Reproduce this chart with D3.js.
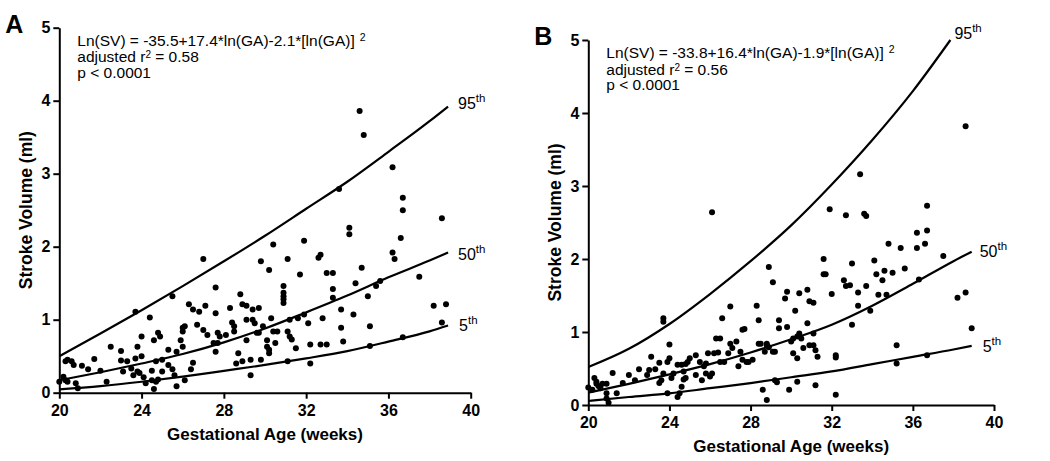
<!DOCTYPE html>
<html>
<head>
<meta charset="utf-8">
<script src="https://cdn.jsdelivr.net/npm/d3@7"></script>
<style>
  body { margin: 0; background: #fff; }
  svg { display: block; font-family: "Liberation Sans", Arial, sans-serif; }
  .axis path, .axis line { stroke: #000; stroke-width: 2px; }
  .axis text { font-size: 16px; font-weight: bold; fill: #000; }
</style>
</head>
<body>
<svg id="chart" width="1050" height="461"></svg>
<script>
// data: [gestational age (weeks), stroke volume (ml)]
var pointsA = [
  [20.0,0.15],[20.2,0.22],[20.3,0.43],[20.4,0.45],[20.3,0.17],[20.4,0.15],[20.6,0.43],[20.7,0.38],
  [20.8,0.13],[20.9,0.06],[21.1,0.37],[21.4,0.32],[21.7,0.46],[22.0,0.30],[22.3,0.15],[22.5,0.63],
  [23.0,0.57],[23.0,0.44],[23.1,0.29],[23.3,0.43],[23.5,0.33],[23.6,0.24],[23.7,0.47],[23.7,1.11],
  [23.8,0.63],[23.8,0.29],[23.9,0.27],[24.0,0.77],[24.0,0.50],[24.1,0.21],[24.2,0.13],[24.4,1.03],
  [24.5,0.17],[24.6,0.72],[24.5,0.30],[24.6,0.05],[24.7,0.43],[24.7,0.15],[24.8,0.82],[24.9,0.77],
  [24.8,0.18],[25.0,0.29],[25.0,0.45],[25.3,0.59],[25.3,0.38],[25.5,1.32],[25.5,0.32],[25.6,0.24],
  [25.7,0.56],[25.7,0.09],[25.9,0.72],[26.0,0.84],[26.0,0.89],[26.1,0.91],[26.1,0.17],[26.0,0.63],
  [26.3,1.21],[26.4,0.32],[26.5,0.41],[26.5,1.14],[26.7,0.93],[26.8,1.11],[27.0,1.83],[27.0,0.86],
  [27.1,1.19],[27.2,0.79],[27.5,0.68],[27.6,1.44],[27.6,1.09],[27.6,0.56],[27.7,0.82],[27.7,0.68],
  [27.8,0.77],[28.1,0.79],[28.3,1.16],[28.4,0.96],[28.5,0.84],[28.5,0.91],[28.6,0.40],[28.7,0.54],
  [28.8,1.35],[28.9,1.21],[28.9,0.43],[29.1,1.19],[29.1,1.00],[29.1,0.72],[29.3,0.24],[29.3,0.45],
  [29.4,1.00],[29.4,1.14],[29.5,0.95],[29.6,0.82],[29.7,1.16],[29.7,0.82],[29.8,0.45],[29.8,1.80],
  [29.9,0.91],[30.1,0.72],[30.1,0.63],[30.2,0.59],[30.2,0.54],[30.2,1.68],[30.3,1.02],[30.4,2.03],
  [30.4,0.84],[30.5,0.68],[30.6,0.84],[30.9,1.46],[30.9,1.37],[30.9,1.32],[30.9,1.28],[30.9,1.23],
  [31.1,1.83],[31.1,0.84],[31.1,0.43],[31.2,1.00],[31.2,0.77],[31.3,0.73],[31.5,0.61],[31.6,1.02],
  [31.7,1.62],[31.9,2.08],[31.9,1.07],[32.1,0.95],[32.2,0.66],[32.2,0.40],[32.6,1.85],[32.7,1.89],
  [32.7,0.66],[32.8,1.02],[33.0,1.64],[33.0,0.66],[33.3,1.64],[33.3,1.42],[33.3,1.30],[33.6,2.79],
  [33.7,1.14],[33.7,0.89],[33.8,0.70],[34.1,2.26],[34.1,2.17],[34.3,1.07],[34.4,1.50],[34.6,3.86],
  [34.7,1.71],[34.8,3.53],[35.0,1.32],[35.1,0.91],[35.1,0.64],[35.4,1.46],[35.6,1.53],[36.2,3.09],
  [36.2,1.92],[36.3,1.83],[36.6,2.12],[36.7,2.67],[36.7,2.50],[36.7,0.76],[37.5,1.59],[38.2,1.19],
  [38.6,2.39],[38.6,0.96],[38.8,1.21]
]
var pointsB = [
  [20.0,0.24],[20.2,0.21],[20.3,0.37],[20.4,0.32],[20.4,0.29],[20.5,0.26],[20.6,0.23],[20.7,0.29],
  [20.9,0.29],[20.9,0.16],[20.9,0.09],[21.0,0.03],[21.2,0.44],[21.4,0.16],[21.7,0.30],[22.0,0.41],
  [22.3,0.34],[22.5,0.49],[22.9,0.41],[23.0,0.48],[23.1,0.66],[23.3,0.49],[23.5,0.58],[23.5,0.30],
  [23.6,0.34],[23.7,1.19],[23.7,1.14],[23.7,0.43],[23.9,0.16],[23.9,0.59],[24.0,0.83],[24.0,0.64],
  [24.1,0.37],[24.2,0.43],[24.4,0.55],[24.4,0.11],[24.5,0.16],[24.6,0.25],[24.6,0.55],[24.7,0.46],
  [24.7,0.35],[24.8,0.56],[24.8,0.37],[24.9,0.59],[25.0,0.64],[25.3,0.68],[25.3,0.41],[25.5,0.59],
  [25.6,0.34],[25.7,0.53],[25.8,0.43],[25.8,0.57],[25.9,0.71],[26.0,0.39],[26.1,0.43],[26.1,2.64],
  [26.2,0.71],[26.3,0.91],[26.4,0.72],[26.5,0.59],[26.5,0.91],[26.6,1.19],[26.7,0.59],[26.9,0.71],
  [27.0,0.84],[27.0,1.35],[27.1,0.78],[27.3,0.87],[27.4,0.53],[27.5,0.73],[27.6,1.03],[27.6,0.62],
  [27.7,1.04],[27.8,0.59],[27.9,0.59],[28.1,0.62],[28.3,1.36],[28.4,0.84],[28.4,1.16],[28.5,0.84],
  [28.6,0.21],[28.7,0.73],[28.8,0.82],[28.8,0.84],[28.8,0.07],[28.9,1.89],[28.9,0.79],[29.1,1.68],
  [29.1,0.73],[29.2,0.73],[29.2,0.34],[29.3,0.31],[29.4,1.16],[29.4,1.05],[29.7,1.46],[29.8,1.07],
  [29.8,1.55],[29.9,0.21],[30.0,0.87],[30.1,0.91],[30.1,0.71],[30.2,1.29],[30.3,0.94],[30.3,0.64],
  [30.3,0.32],[30.4,0.98],[30.4,1.53],[30.5,0.91],[30.6,0.78],[30.8,1.58],[30.8,1.12],[30.9,1.42],
  [30.9,0.82],[31.1,0.98],[31.1,1.40],[31.1,0.82],[31.2,0.75],[31.2,0.27],[31.3,0.66],[31.6,2.00],
  [31.6,1.79],[31.7,1.79],[31.9,2.68],[32.0,1.52],[32.2,0.68],[32.2,0.65],[32.2,0.14],[32.6,1.71],
  [32.7,2.60],[32.7,1.63],[32.9,1.64],[33.0,1.94],[33.0,1.10],[33.3,1.54],[33.3,1.36],[33.4,3.16],
  [33.6,2.62],[33.7,2.59],[33.7,1.63],[33.9,1.29],[34.1,1.98],[34.2,1.79],[34.3,1.51],[34.5,1.71],
  [34.6,1.84],[34.7,1.51],[34.8,2.21],[35.0,1.81],[35.2,0.82],[35.2,0.57],[35.4,2.15],[35.6,1.87],
  [36.2,2.36],[36.2,2.15],[36.3,1.72],[36.6,2.21],[36.7,2.73],[36.7,2.39],[36.7,0.68],[37.5,2.04],
  [38.2,1.47],[38.6,1.54],[38.6,3.82],[38.9,1.05]
]

// percentile curves read at these ages
var curveGA = [20, 22, 24, 26, 28, 30, 32, 34, 36, 38, 38.9]
var p95A = [0.50, 0.81, 1.13, 1.46, 1.80, 2.15, 2.52, 2.89, 3.30, 3.72, 3.92]
var p50A = [0.17, 0.28, 0.40, 0.53, 0.69, 0.88, 1.10, 1.33, 1.58, 1.81, 1.92]
var p5A  = [0.045, 0.09, 0.15, 0.22, 0.30, 0.38, 0.47, 0.57, 0.70, 0.84, 0.92]
var curveGA95B = [20, 22, 24, 26, 28, 30, 32, 34, 36, 37.85]
var p95B = [0.52, 0.77, 1.11, 1.52, 1.97, 2.46, 3.02, 3.63, 4.30, 5.0]
var p50B = [0.17, 0.29, 0.42, 0.56, 0.72, 0.90, 1.10, 1.36, 1.66, 1.97, 2.10]
var p5B  = [0.055, 0.11, 0.16, 0.23, 0.30, 0.38, 0.46, 0.56, 0.66, 0.76, 0.81]

var xTicks = [20, 24, 28, 32, 36, 40]
var yTicks = [0, 1, 2, 3, 4, 5]
var panelLetters = ['A', 'B']
var equations = [
  'Ln(SV) = -35.5+17.4*ln(GA)-2.1*[ln(GA)]',
  'Ln(SV) = -33.8+16.4*ln(GA)-1.9*[ln(GA)]'
]
var r2Values = ['0.58', '0.56']
var pValues = ['p < 0.0001', 'p < 0.0001']

var svg = d3.select('#chart')

function drawPanel(box, opts) {
  var x = d3.scaleLinear().domain([20, 40]).range([box.left, box.right])
  var y = d3.scaleLinear().domain([0, 5]).range([box.bottom, box.top])
  var g = svg.append('g')

  g.append('g')
    .attr('class', 'axis')
    .attr('transform', 'translate(0,' + box.bottom + ')')
    .call(d3.axisBottom(x).tickValues(xTicks).tickFormat(d3.format('d'))
      .tickSize(6).tickSizeOuter(0).tickPadding(6))

  g.append('g')
    .attr('class', 'axis')
    .attr('transform', 'translate(' + box.left + ',0)')
    .call(d3.axisLeft(y).tickValues(yTicks).tickFormat(d3.format('d'))
      .tickSize(6).tickSizeOuter(0).tickPadding(3))

  g.append('text')
    .attr('x', (box.left + box.right) / 2)
    .attr('y', box.bottom + 47)
    .attr('text-anchor', 'middle')
    .style('font-size', '17px').style('font-weight', 'bold')
    .text('Gestational Age (weeks)')

  g.append('text')
    .attr('transform', 'translate(' + (box.left - 27) + ',' + ((box.top + box.bottom) / 2) + ') rotate(-90)')
    .attr('text-anchor', 'middle')
    .style('font-size', '17.5px').style('font-weight', 'bold')
    .text('Stroke Volume (ml)')

  g.append('text')
    .attr('x', box.left - 54)
    .attr('y', box.top + 5)
    .style('font-size', '25px').style('font-weight', 'bold')
    .text(opts.letter)

  // equation block
  var tx = box.left + 18, ty = box.top + 18
  var eq = g.append('text').attr('x', tx).attr('y', ty).style('font-size', '15.5px')
  eq.append('tspan').text(opts.equation)
  eq.append('tspan').attr('dx', 5).attr('dy', -5).style('font-size', '10.5px').text('2')
  var r2 = g.append('text').attr('x', tx).attr('y', ty + 16.5).style('font-size', '15.5px')
  r2.append('tspan').text('adjusted r')
  r2.append('tspan').attr('dy', -4).style('font-size', '10px').text('2')
  r2.append('tspan').attr('dy', 4).text(' = ' + opts.r2)
  g.append('text').attr('x', tx).attr('y', ty + 32).style('font-size', '15.5px').text(opts.p)

  var line = d3.line()
    .x(function(d) { return x(d[0]) })
    .y(function(d) { return y(d[1]) })
    .curve(d3.curveMonotoneX)

  opts.curves.forEach(function(c) {
    var pts = c.ga.map(function(ga, i) { return [ga, c.values[i]] })
    g.append('path')
      .datum(pts)
      .attr('fill', 'none')
      .attr('stroke', '#000')
      .attr('stroke-width', 2.2)
      .attr('d', line)
    var last = pts[pts.length - 1]
    var lbl = g.append('text')
      .attr('x', x(last[0]) + c.dx)
      .attr('y', y(last[1]) + c.dy)
      .style('font-size', '16px')
    lbl.append('tspan').text(c.label)
    lbl.append('tspan').attr('dy', -7).style('font-size', '11.5px').text('th')
  })

  g.append('g').selectAll('circle')
    .data(opts.points)
    .enter().append('circle')
    .attr('cx', function(d) { return x(d[0]) })
    .attr('cy', function(d) { return y(d[1]) })
    .attr('r', 3)
    .attr('fill', '#000')
}

drawPanel({left: 59.3, right: 470.7, top: 27.7, bottom: 392.7}, {
  letter: panelLetters[0], equation: equations[0], r2: r2Values[0], p: pValues[0],
  points: pointsA,
  curves: [
    {ga: curveGA, values: p95A, label: '95', dx: 10, dy: 2},
    {ga: curveGA, values: p50A, label: '50', dx: 10, dy: 7},
    {ga: curveGA, values: p5A, label: '5', dx: 11, dy: 5}
  ]
})

drawPanel({left: 588.3, right: 994, top: 40, bottom: 405}, {
  letter: panelLetters[1], equation: equations[1], r2: r2Values[1], p: pValues[1],
  points: pointsB,
  curves: [
    {ga: curveGA95B, values: p95B, label: '95', dx: 4, dy: -1},
    {ga: curveGA, values: p50B, label: '50', dx: 8, dy: 5},
    {ga: curveGA, values: p5B, label: '5', dx: 11, dy: 6}
  ]
})
</script>
</body>
</html>
